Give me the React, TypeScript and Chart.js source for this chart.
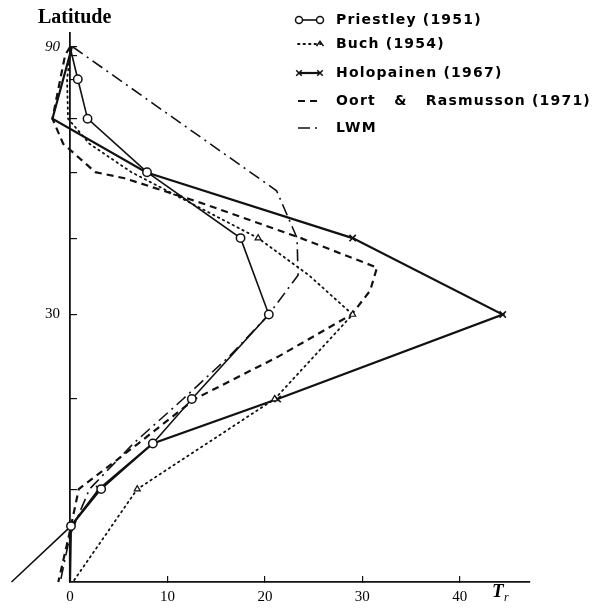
import React, { useEffect, useRef } from "react";
import { Chart, registerables } from "chart.js";

Chart.register(...registerables);

// ---- axis ticks ----
const yTickLatitudes = [10, 20, 30, 40, 50, 60, 70, 80, 90];
const yLabelLatitudes = [30, 90];
const xTickValues = [0, 10, 20, 30, 40];
const yAxisTitle = "Latitude";

// ---- series (latitude in degrees, T_r values) ----
const priestleyLat = [90, 70, 60, 50, 40, 30, 20, 15, 10, 6, 0];
const priestleyTr = [0, 0.8, 1.8, 7.9, 17.5, 20.4, 12.5, 8.5, 3.2, 0.1, -6.0];
const priestleyMarkerLat = [70, 60, 50, 40, 30, 20, 15, 10, 6, 0];

const buchLat = [90, 80, 70, 60, 55, 50, 40, 35, 30, 20, 10, 0];
const buchTr = [0, 0, -0.3, -0.2, 2.0, 6.3, 19.3, 24.5, 29.0, 21.0, 6.9, 0.3];
const buchMarkerLat = [40, 30, 20, 10];

const holoLat = [90, 60, 50, 40, 30, 20, 15, 10, 6, 0];
const holoTr = [0.2, -1.8, 7.8, 29.0, 44.4, 21.3, 8.5, 3.0, 0.1, 0];
const holoMarkerLat = [60, 40, 30, 20, 10];

const oortLat = [90, 80, 70, 60, 55, 50, 49, 45, 40, 36, 33, 30, 25, 20, 15, 10, 5, 0];
const oortTr = [0, -0.5, -1.0, -1.8, -0.7, 2.6, 5.6, 13.7, 23.7, 31.5, 30.8, 28.9, 21.5, 12.8, 7.0, 0.9, -0.1, -1.2];

const lwmLat = [90, 47, 40, 35, 30, 25, 20, 15, 10, 5, 0];
const lwmTr = [0.3, 21.2, 23.3, 23.4, 20.4, 16.4, 11.6, 6.5, 2.0, 0.0, -1.0];

const toSin = (lat: number) => Math.sin((lat * Math.PI) / 180);
const toPoints = (lats: number[], trs: number[]) =>
  lats.map((l, i) => ({ x: trs[i], y: toSin(l), lat: l }));

const INK = "#111";

function markerRadius(list: number[], r: number) {
  return (c: any) => (c.raw && list.includes(c.raw.lat) ? r : 0);
}

function drawMarker(ctx: CanvasRenderingContext2D, style: string, x: number, y: number, r: number) {
  ctx.save();
  ctx.setLineDash([]);
  ctx.strokeStyle = INK;
  ctx.fillStyle = "#fff";
  ctx.lineWidth = 1.5;
  ctx.beginPath();
  if (style === "circle") {
    ctx.arc(x, y, r, 0, Math.PI * 2);
    ctx.fill();
    ctx.stroke();
  } else if (style === "crossRot") {
    ctx.moveTo(x - r * 0.7, y - r * 0.7);
    ctx.lineTo(x + r * 0.7, y + r * 0.7);
    ctx.moveTo(x + r * 0.7, y - r * 0.7);
    ctx.lineTo(x - r * 0.7, y + r * 0.7);
    ctx.stroke();
  } else if (style === "triangle") {
    ctx.moveTo(x - r, y + r * 0.6);
    ctx.lineTo(x, y - r * 0.8);
    ctx.lineTo(x + r, y + r * 0.6);
    ctx.stroke();
  }
  ctx.restore();
}

const paperPlugin = {
  id: "paperDecor",
  afterDraw(chart: any) {
    const ctx: CanvasRenderingContext2D = chart.ctx;
    ctx.save();
    ctx.fillStyle = "#000";
    ctx.textAlign = "left";
    ctx.textBaseline = "middle";
    ctx.font = 'bold 20px "Liberation Serif"';
    ctx.fillText(yAxisTitle, 38, 18);

    ctx.font = 'italic bold 19px "Liberation Serif"';
    ctx.fillText("T", 492, 592);
    ctx.font = 'italic 12px "Liberation Serif"';
    ctx.fillText("r", 504, 598);

    const rowY = [20, 44, 73, 101, 128];
    chart.data.datasets.forEach((ds: any, i: number) => {
      const y = rowY[i];
      ctx.save();
      ctx.strokeStyle = INK;
      ctx.lineWidth = ds.borderWidth;
      ctx.lineCap = ds.borderCapStyle || "butt";
      ctx.setLineDash(ds.borderDash || []);
      ctx.beginPath();
      ctx.moveTo(298, y);
      ctx.lineTo(321, y);
      ctx.stroke();
      ctx.restore();
      const ps = ds.legendMarker;
      if (ps === "circle") {
        drawMarker(ctx, ps, 299, y, 3.5);
        drawMarker(ctx, ps, 320, y, 3.5);
      } else if (ps === "crossRot") {
        drawMarker(ctx, ps, 299, y, 4);
        drawMarker(ctx, ps, 320, y, 4);
      } else if (ps === "triangle") {
        drawMarker(ctx, ps, 320, y, 3.5);
      }
      ctx.save();
      ctx.fillStyle = "#000";
      ctx.font = 'bold 14px "DejaVu Sans"';
      (ctx as any).letterSpacing = "1.2px";
      ctx.textBaseline = "middle";
      const text = String(ds.label).replace(" & ", "   &   ");
      ctx.fillText(text, 336, y);
      ctx.restore();
    });
    ctx.restore();
  },
};

export default function App() {
  const ref = useRef<HTMLCanvasElement>(null);
  useEffect(() => {
    const datasets: any[] = [
      {
        label: "Priestley (1951)",
        data: toPoints(priestleyLat, priestleyTr),
        borderColor: INK,
        borderWidth: 1.6,
        pointStyle: "circle",
        pointRadius: markerRadius(priestleyMarkerLat, 4.2),
        pointBackgroundColor: "#fff",
        pointBorderColor: INK,
        pointBorderWidth: 1.5,
        legendMarker: "circle",
      },
      {
        label: "Buch (1954)",
        data: toPoints(buchLat, buchTr),
        borderColor: INK,
        borderWidth: 1.8,
        borderDash: [1.5, 4],
        borderCapStyle: "round",
        pointStyle: "triangle",
        pointRadius: markerRadius(buchMarkerLat, 3.5),
        pointBackgroundColor: "#fff",
        pointBorderColor: INK,
        pointBorderWidth: 1.2,
        legendMarker: "triangle",
      },
      {
        label: "Holopainen (1967)",
        data: toPoints(holoLat, holoTr),
        borderColor: INK,
        borderWidth: 2.2,
        pointStyle: "crossRot",
        pointRadius: markerRadius(holoMarkerLat, 4.5),
        pointBorderColor: INK,
        pointBorderWidth: 1.6,
        legendMarker: "crossRot",
      },
      {
        label: "Oort & Rasmusson (1971)",
        data: toPoints(oortLat, oortTr),
        borderColor: INK,
        borderWidth: 2.2,
        borderDash: [7, 5],
        pointRadius: 0,
        legendMarker: "none",
      },
      {
        label: "LWM",
        data: toPoints(lwmLat, lwmTr),
        borderColor: INK,
        borderWidth: 1.6,
        borderDash: [12, 5, 2, 5],
        pointRadius: 0,
        legendMarker: "none",
      },
    ].map((d) => ({ ...d, showLine: true, fill: false, tension: 0, clip: false }));

    const chart = new Chart(ref.current!, {
      type: "scatter",
      data: { datasets },
      plugins: [paperPlugin],
      options: {
        animation: false,
        responsive: false,
        events: [],
        layout: { padding: { top: 33, right: 71, left: 0, bottom: 0 } },
        plugins: { legend: { display: false }, tooltip: { enabled: false } },
        scales: {
          x: {
            type: "linear",
            min: 0,
            max: 47.2,
            afterFit: (s: any) => {
              s.height = 27;
            },
            afterBuildTicks: (s: any) => {
              s.ticks = xTickValues.map((v) => ({ value: v }));
            },
            border: { display: true, color: INK, width: 1.8 },
            grid: { drawOnChartArea: false, tickLength: -6, color: INK, lineWidth: 1.2 },
            ticks: {
              padding: 12,
              color: "#000",
              maxRotation: 0,
              font: { family: "Liberation Serif", size: 15 },
              callback: (v: any) => String(v),
            },
          },
          y: {
            type: "linear",
            min: 0,
            max: 1.0262,
            afterFit: (s: any) => {
              s.width = 70;
            },
            afterBuildTicks: (s: any) => {
              s.ticks = yTickLatitudes.map((l) => ({ value: toSin(l) }));
            },
            border: { display: true, color: INK, width: 1.8 },
            grid: { drawOnChartArea: false, tickLength: -7, color: INK, lineWidth: 1.2 },
            ticks: {
              padding: 17,
              color: "#000",
              font: (c: any) => ({
                family: "Liberation Serif",
                size: 15,
                style: c.tick && Math.abs(c.tick.value - 1) < 1e-6 ? "italic" : "normal",
              }),
              callback: (v: any) => {
                const lat = Math.round((Math.asin(Math.min(1, Number(v))) * 180) / Math.PI);
                return yLabelLatitudes.includes(lat) ? String(lat) : "";
              },
            },
          },
        },
      } as any,
    } as any);
    return () => chart.destroy();
  }, []);

  return (
    <div style={{ position: "fixed", left: 0, top: 0, width: 601, height: 609, background: "#fff" }}>
      <canvas ref={ref} width={601} height={609} style={{ display: "block" }} />
    </div>
  );
}
